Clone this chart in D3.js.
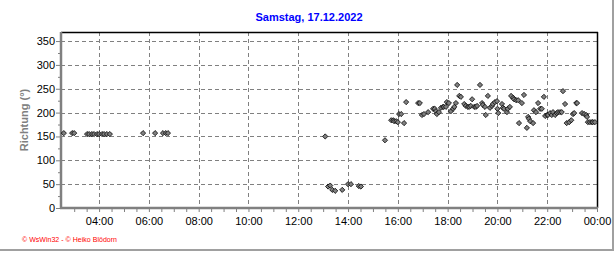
<!DOCTYPE html>
<html>
<head>
<meta charset="utf-8">
<script src="https://cdn.jsdelivr.net/npm/d3@7"></script>
<style>
  html, body { margin: 0; padding: 0; background: #fff; }
  svg { display: block; font-family: "Liberation Sans", Arial, sans-serif; }
</style>
</head>
<body>
<div id="chart"></div>
<script>
// wind direction readings, Samstag 17.12.2022
var times = [
  "02:35","02:55","03:00","03:31","03:36","03:43","03:48","03:55","04:00","04:07","04:12","04:19","04:26",
  "05:46","06:15","06:34","06:41","06:46",
  "13:05","13:12","13:17","13:22","13:29","13:46","14:00","14:07","14:26","14:31",
  "15:29","15:44","15:49","15:51","15:56","16:00","16:03","16:08","16:15","16:20","16:49","16:53","16:58",
  "17:03","17:13","17:25","17:29","17:32","17:34","17:39","17:44","17:49","17:51","17:56","17:58",
  "18:03","18:08","18:13","18:16","18:20","18:23","18:28","18:32","18:40","18:44","18:49","18:52","18:56","18:59",
  "19:04","19:08","19:11","19:18","19:23","19:25","19:30","19:32","19:37","19:42","19:47","19:49","19:54","19:59",
  "20:00","20:02","20:11","20:13","20:16","20:23","20:25","20:30","20:33","20:38","20:40","20:45","20:50","20:52","20:59",
  "21:04","21:11","21:14","21:16","21:19","21:26","21:28","21:33","21:38","21:43","21:47","21:52","21:55",
  "22:00","22:02","22:07","22:11","22:14","22:19","22:23","22:26","22:31","22:35","22:38","22:43","22:47","22:53","22:58",
  "23:02","23:05","23:10","23:12","23:24","23:29","23:34","23:36","23:38","23:43","23:48","23:50","23:55"
];
var direction = [
  157,157,157,155,155,155,155,155,155,155,155,155,155,
  157,157,157,157,157,
  150,45,47,38,36,38,50,50,46,45,
  142,184,184,182,182,180,197,197,178,222,220,220,195,
  197,201,208,208,203,197,201,210,212,212,212,222,
  220,203,208,212,220,258,235,233,218,214,212,212,214,228,
  212,212,214,258,220,216,212,195,235,210,214,218,222,224,
  208,199,218,210,208,201,208,212,235,231,228,226,226,178,220,
  237,168,191,187,182,178,205,201,220,208,208,233,193,
  195,195,199,195,201,195,199,201,201,201,245,218,178,180,184,
  197,199,220,220,199,197,195,191,180,180,180,180,180
];
var xTickHours = [4, 6, 8, 10, 12, 14, 16, 18, 20, 22, 24];
var yTicks = [0, 50, 100, 150, 200, 250, 300, 350];

var title = "Samstag, 17.12.2022";
var yTitle = "Richtung (°)";
var footer = "© WsWin32 - © Heiko Blödorn";

var W = 616, H = 253;
var mLeft = 61, mRight = 597, mTop = 32, mBottom = 208;

function toHours(s) {
  var p = s.split(":");
  return +p[0] + (+p[1]) / 60;
}
var data = times.map(function (t, i) { return { h: toHours(t), v: direction[i] }; });

var svg = d3.select("#chart").append("svg")
  .attr("width", W).attr("height", H);

var x = d3.scaleLinear().domain([2.47, 24]).range([mLeft, mRight]);
var y = d3.scaleLinear().domain([0, 369]).range([mBottom, mTop]);

// outer frame (gray, right and bottom)
svg.append("line").attr("x1", 613).attr("x2", 613).attr("y1", 0).attr("y2", 250)
  .attr("stroke", "#a0a0a0").attr("stroke-width", 2);
svg.append("line").attr("x1", 0).attr("x2", 614).attr("y1", 250).attr("y2", 250)
  .attr("stroke", "#a0a0a0").attr("stroke-width", 2);

// title
svg.append("text")
  .attr("x", 309).attr("y", 21)
  .attr("text-anchor", "middle")
  .attr("font-size", 11).attr("font-weight", "bold")
  .attr("fill", "#0000ff")
  .text(title);

// grid
var grid = svg.append("g").attr("stroke", "#808080").attr("stroke-dasharray", "4,3").attr("stroke-width", 1);
grid.selectAll(".gy").data(yTicks.filter(function (d) { return d > 0; })).enter().append("line")
  .attr("x1", mLeft).attr("x2", mRight)
  .attr("y1", function (d) { return Math.round(y(d)) + 0.5; })
  .attr("y2", function (d) { return Math.round(y(d)) + 0.5; });
grid.selectAll(".gx").data(xTickHours.filter(function (d) { return d < 24; })).enter().append("line")
  .attr("y1", mTop).attr("y2", mBottom)
  .attr("x1", function (d) { return Math.round(x(d)) + 0.5; })
  .attr("x2", function (d) { return Math.round(x(d)) + 0.5; });

// frame top/right black
svg.append("line").attr("x1", mLeft).attr("x2", mRight + 1).attr("y1", mTop + 0.5).attr("y2", mTop + 0.5)
  .attr("stroke", "#000").attr("stroke-width", 1.5);
svg.append("line").attr("x1", mRight + 0.5).attr("x2", mRight + 0.5).attr("y1", mTop).attr("y2", mBottom)
  .attr("stroke", "#000").attr("stroke-width", 1.5);

// axes
var minorX = d3.range(3, 24.01, 0.5);
var xAxis = d3.axisBottom(x).tickValues(minorX).tickSize(4)
  .tickFormat(function (d) {
    if (xTickHours.indexOf(d) < 0) return "";
    var hh = d % 24;
    return (hh < 10 ? "0" : "") + hh + ":00";
  });
var gx = svg.append("g").attr("transform", "translate(0," + mBottom + ")").call(xAxis);
gx.select(".domain").attr("stroke", "#808080").attr("stroke-width", 2.5)
  .attr("d", "M" + (mLeft - 1) + ",0H" + (mRight + 1));
gx.selectAll(".tick line").attr("stroke", "#808080").attr("stroke-width", 1);
gx.selectAll(".tick text").attr("font-size", 11).attr("fill", "#000")
  .attr("font-family", "Liberation Sans, Arial, sans-serif").attr("dy", "0.9em");

var minorY = d3.range(0, 366, 25);
var yAxis = d3.axisLeft(y).tickValues(minorY)
  .tickSize(3)
  .tickFormat(function (d) { return yTicks.indexOf(d) >= 0 ? d : ""; });
var gy = svg.append("g").attr("transform", "translate(" + mLeft + ",0)").call(yAxis);
gy.select(".domain").attr("stroke", "#808080").attr("stroke-width", 2.5)
  .attr("d", "M0," + mTop + "V" + (mBottom + 1));
gy.selectAll(".tick line").attr("stroke", "#808080")
  .attr("x2", function (d) { return yTicks.indexOf(d) >= 0 ? -5 : -3; });
gy.selectAll(".tick text").attr("font-size", 11).attr("fill", "#000")
  .attr("font-family", "Liberation Sans, Arial, sans-serif").attr("x", -6);

// y title
svg.append("text")
  .attr("transform", "translate(28,120) rotate(-90)")
  .attr("text-anchor", "middle")
  .attr("font-size", 11).attr("font-weight", "bold")
  .attr("fill", "#808080")
  .text(yTitle);

// points
var diamond = "M0,-2.6L2.6,0L0,2.6L-2.6,0Z";
svg.append("g").selectAll("path").data(data).enter().append("path")
  .attr("d", diamond)
  .attr("transform", function (d) { return "translate(" + x(d.h) + "," + y(d.v) + ")"; })
  .attr("fill", "#808080")
  .attr("stroke", "#000")
  .attr("stroke-width", 0.8);

// footer
svg.append("text")
  .attr("x", 22).attr("y", 242)
  .attr("font-size", 7)
  .attr("fill", "#ff0000")
  .attr("textLength", 95)
  .text(footer);
</script>
</body>
</html>
